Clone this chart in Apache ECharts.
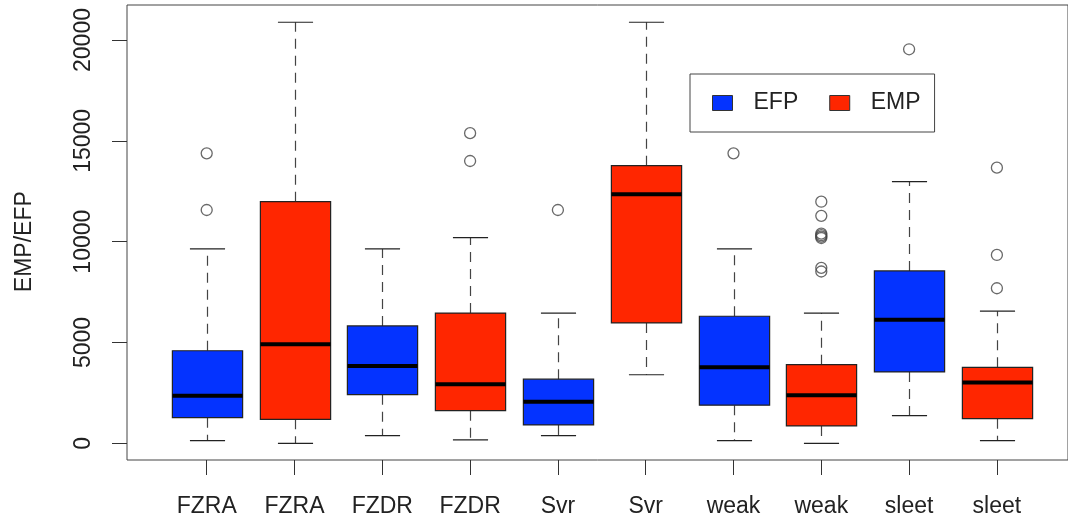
<!DOCTYPE html>
<html>
<head>
<meta charset="utf-8">
<script src="https://cdn.jsdelivr.net/npm/echarts@6/dist/echarts.min.js"></script>
<style>
html,body{margin:0;padding:0;background:#fff;}
#chart{width:1068px;height:519px;}
</style>
</head>
<body>
<div id="chart"></div>
<script>
// ---- data ----
const categories = ['FZRA','FZRA','FZDR','FZDR','Svr','Svr','weak','weak','sleet','sleet'];
const groups     = ['EFP','EMP','EFP','EMP','EFP','EMP','EFP','EMP','EFP','EMP'];
const lowerWhisker = [130,    0,   380,  165,  380, 3400,  130,    0, 1370,  130];
const q1Values     = [1270, 1190, 2410, 1620,  910, 5970, 1890,  860, 3540, 1220];
const medianValues = [2360, 4910, 3830, 2930, 2060,12350, 3770, 2380, 6130, 3010];
const q3Values     = [4590,11980, 5820, 6460, 3180,13770, 6300, 3900, 8550, 3770];
const upperWhisker = [9640,20880, 9640,10200, 6460,20880, 9640, 6460,12980, 6550];
// outliers as [box index, value]
const outliers = [
  [0, 14380], [0, 11570],
  [3, 15380], [3, 14000],
  [4, 11570],
  [6, 14380],
  [7, 11980], [7, 11280], [7, 10400], [7, 10320], [7, 10250], [7, 10180], [7, 8700], [7, 8520],
  [8, 19540],
  [9, 13670], [9, 9340], [9, 7690]
];
const yTicks = { min: 0, max: 20000, step: 5000 };

// ---- chart ----
const FONT = '"Liberation Sans", Arial, Helvetica, sans-serif';
const FS = 23;
const colors = { EFP: '#0433ff', EMP: '#ff2600' };

function boxData(name) {
  const out = [];
  categories.forEach((c, i) => {
    if (groups[i] === name) {
      out.push([i, lowerWhisker[i], q1Values[i], medianValues[i], q3Values[i], upperWhisker[i]]);
    }
  });
  return out;
}

function renderBox(params, api) {
  const x = api.value(0);
  const lo = api.coord([x, api.value(1)]);
  const q1 = api.coord([x, api.value(2)]);
  const md = api.coord([x, api.value(3)]);
  const q3 = api.coord([x, api.value(4)]);
  const hi = api.coord([x, api.value(5)]);
  const band = api.size([1, 0])[0];
  const bw = band * 0.8, cw = band * 0.4;
  const cx = Math.round(md[0]) + 0.5;
  const dash = { stroke: '#444', lineWidth: 1.2, lineDash: [10, 7] };
  const solid = { stroke: '#222', lineWidth: 1.2 };
  return {
    type: 'group',
    children: [
      { type: 'line', shape: { x1: cx, y1: q3[1], x2: cx, y2: hi[1] }, style: dash },
      { type: 'line', shape: { x1: cx, y1: q1[1], x2: cx, y2: lo[1] }, style: dash },
      { type: 'line', shape: { x1: cx - cw / 2, y1: hi[1], x2: cx + cw / 2, y2: hi[1] }, style: solid },
      { type: 'line', shape: { x1: cx - cw / 2, y1: lo[1], x2: cx + cw / 2, y2: lo[1] }, style: solid },
      { type: 'rect', shape: { x: cx - bw / 2, y: q3[1], width: bw, height: q1[1] - q3[1] },
        style: { fill: api.visual('color'), stroke: '#222', lineWidth: 1.2 } },
      { type: 'line', shape: { x1: cx - bw / 2, y1: md[1], x2: cx + bw / 2, y2: md[1] },
        style: { stroke: '#000', lineWidth: 4 } }
    ]
  };
}

const hiddenValue = (g) => ({ type: 'value', gridIndex: g, min: 0, max: 1, show: false });

const chart = echarts.init(document.getElementById('chart'), null, { renderer: 'canvas' });
chart.setOption({
  animation: false,
  backgroundColor: '#fff',
  textStyle: { fontFamily: FONT },
  grid: [
    // frame (plot box)
    { left: 127, top: 5, width: 960, height: 455, show: true, borderColor: '#444', borderWidth: 1, backgroundColor: 'transparent' },
    // y axis carrier
    { left: 127, top: 40, width: 960, height: 403.3 },
    // x axis carrier
    { left: 162.8, top: 5, width: 878, height: 455 },
    // data
    { left: 162.8, top: 40, width: 878, height: 403.3 }
  ],
  legend: {
    data: ['EFP', 'EMP'],
    left: 690, top: 74,
    orient: 'horizontal',
    itemWidth: 20, itemHeight: 15,
    itemGap: 31,
    icon: 'rect',
    padding: [17.5, 14, 17.5, 22],
    borderColor: '#444', borderWidth: 1,
    itemStyle: { borderColor: '#333', borderWidth: 1 },
    textStyle: { fontFamily: FONT, fontSize: FS, color: '#222', padding: [0, 0, 0, 16] }
  },
  xAxis: [
    hiddenValue(0),
    hiddenValue(1),
    { type: 'category', gridIndex: 2, data: categories,
      axisLine: { show: false },
      axisTick: { show: true, alignWithLabel: true, length: 15, lineStyle: { color: '#333', width: 1 } },
      axisLabel: { fontFamily: FONT, fontSize: FS, color: '#222', margin: 35, interval: 0 },
      splitLine: { show: false } },
    { type: 'category', gridIndex: 3, data: categories, show: false }
  ],
  yAxis: [
    hiddenValue(0),
    { type: 'value', gridIndex: 1, min: yTicks.min, max: yTicks.max, interval: yTicks.step,
      name: 'EMP/EFP', nameLocation: 'middle', nameRotate: 90, nameGap: 91,
      nameTextStyle: { fontFamily: FONT, fontSize: FS, color: '#222' },
      axisLine: { show: false },
      axisTick: { show: true, length: 15, lineStyle: { color: '#333', width: 1 } },
      axisLabel: { fontFamily: FONT, fontSize: FS, color: '#222', rotate: 90, margin: 32,
                   formatter: (v) => String(v) },
      splitLine: { show: false } },
    hiddenValue(2),
    { type: 'value', gridIndex: 3, min: yTicks.min, max: yTicks.max, show: false }
  ],
  series: [
    { name: 'EFP', type: 'custom', xAxisIndex: 3, yAxisIndex: 3, renderItem: renderBox,
      encode: { x: 0, y: [1, 2, 3, 4, 5] }, itemStyle: { color: colors.EFP }, clip: false, data: boxData('EFP') },
    { name: 'EMP', type: 'custom', xAxisIndex: 3, yAxisIndex: 3, renderItem: renderBox,
      encode: { x: 0, y: [1, 2, 3, 4, 5] }, itemStyle: { color: colors.EMP }, clip: false, data: boxData('EMP') },
    { name: 'outliers', type: 'scatter', xAxisIndex: 3, yAxisIndex: 3, symbol: 'circle', symbolSize: 11,
      itemStyle: { color: 'transparent', borderColor: '#444', borderWidth: 1.3 },
      data: outliers }
  ]
});
</script>
</body>
</html>
